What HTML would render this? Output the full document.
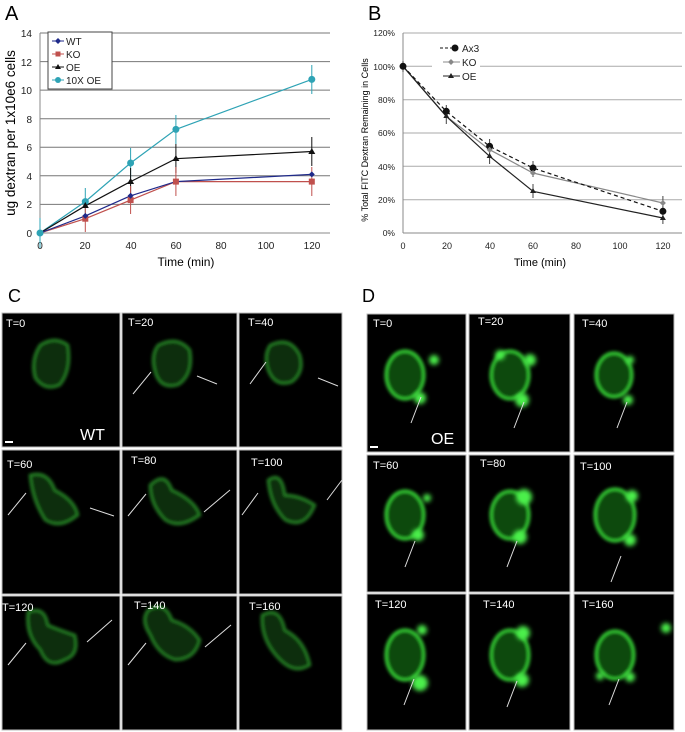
<!DOCTYPE html>
<html><head><meta charset="utf-8"><style>
body{margin:0;background:#fff}
svg{display:block;font-family:"Liberation Sans",sans-serif}
</style></head><body>
<svg width="685" height="732" viewBox="0 0 685 732" xmlns="http://www.w3.org/2000/svg">
<defs>
<filter id="bl" x="-30%" y="-30%" width="160%" height="160%"><feGaussianBlur stdDeviation="1.6"/></filter>
<filter id="bl2" x="-50%" y="-50%" width="200%" height="200%"><feGaussianBlur stdDeviation="2.5"/></filter>
</defs>
<rect width="685" height="732" fill="#fff"/>
<!-- Panel A -->
<text x="5" y="20" font-size="20">A</text>
<g stroke="#777" stroke-width="1">
<line x1="40" y1="204.4" x2="330" y2="204.4"/><line x1="40" y1="175.8" x2="330" y2="175.8"/>
<line x1="40" y1="147.3" x2="330" y2="147.3"/><line x1="40" y1="118.7" x2="330" y2="118.7"/>
<line x1="40" y1="90.1" x2="330" y2="90.1"/><line x1="40" y1="61.6" x2="330" y2="61.6"/>
<line x1="40" y1="33" x2="330" y2="33"/>
</g>
<line x1="40" y1="33" x2="40" y2="233" stroke="#888"/><line x1="40" y1="233" x2="330" y2="233" stroke="#888"/>
<g font-size="10" text-anchor="end" fill="#222">
<text x="32" y="237">0</text><text x="32" y="208">2</text><text x="32" y="180">4</text><text x="32" y="151">6</text>
<text x="32" y="123">8</text><text x="32" y="94">10</text><text x="32" y="66">12</text><text x="32" y="37">14</text>
</g>
<g font-size="10" text-anchor="middle" fill="#222">
<text x="40" y="249">0</text><text x="85" y="249">20</text><text x="131" y="249">40</text><text x="176" y="249">60</text>
<text x="221" y="249">80</text><text x="266" y="249">100</text><text x="312" y="249">120</text>
</g>
<text x="186" y="266" font-size="12" text-anchor="middle">Time (min)</text>
<text transform="translate(15,133) rotate(-90)" font-size="13.5" text-anchor="middle">ug dextran per 1x10e6 cells</text>
<!-- series A -->
<g fill="none" stroke-width="1.2">
<polyline stroke="#2ea3b5" points="40,233 85.3,201.6 130.6,163 175.9,129.4 311.8,79.4"/>
<polyline stroke="#111" points="40,233 85.3,205.8 130.6,181.6 175.9,158.7 311.8,151.5"/>
<polyline stroke="#c0504d" points="40,233 85.3,218.7 130.6,200.1 175.9,181.6 311.8,181.6"/>
<polyline stroke="#1f2a8a" points="40,233 85.3,215.9 130.6,195.8 175.9,181.6 311.8,174.4"/>
</g>
<g stroke-width="1">
<path stroke="#2ea3b5" d="M40,218v30M85.3,188v27M130.6,148v30M175.9,115v29M311.8,65v29"/>
<path stroke="#111" d="M130.6,168v27M175.9,144v29M311.8,137v29"/>
<path stroke="#c0504d" d="M85.3,205v27M130.6,186v28M175.9,167v29M311.8,167v29"/>
</g>
<g fill="#2ea3b5"><circle cx="40" cy="233" r="3.5"/><circle cx="85.3" cy="201.6" r="3.5"/><circle cx="130.6" cy="163" r="3.5"/><circle cx="175.9" cy="129.4" r="3.5"/><circle cx="311.8" cy="79.4" r="3.5"/></g>
<g fill="#111"><path d="M85.3,202l3.5,6h-7zM130.6,178l3.5,6h-7zM175.9,155l3.5,6h-7zM311.8,148l3.5,6h-7z"/></g>
<g fill="#c0504d"><rect x="82.3" y="215.7" width="6" height="6"/><rect x="127.6" y="197.1" width="6" height="6"/><rect x="172.9" y="178.6" width="6" height="6"/><rect x="308.8" y="178.6" width="6" height="6"/></g>
<g fill="#1f2a8a"><path d="M85.3,212.9l3,3-3,3-3-3zM130.6,192.8l3,3-3,3-3-3zM311.8,171.4l3,3-3,3-3-3z"/></g>
<!-- legend A -->
<rect x="48" y="32" width="64" height="57" fill="#fff" stroke="#444"/>
<g font-size="10" fill="#222">
<line x1="52" y1="41" x2="64" y2="41" stroke="#1f2a8a"/><path d="M58,38l3,3-3,3-3-3z" fill="#1f2a8a"/><text x="66" y="45">WT</text>
<line x1="52" y1="54" x2="64" y2="54" stroke="#c0504d"/><rect x="55.5" y="51.5" width="5" height="5" fill="#c0504d"/><text x="66" y="58">KO</text>
<line x1="52" y1="67" x2="64" y2="67" stroke="#111"/><path d="M58,64l3,5h-6z" fill="#111"/><text x="66" y="71">OE</text>
<line x1="52" y1="80" x2="64" y2="80" stroke="#2ea3b5"/><circle cx="58" cy="80" r="3" fill="#2ea3b5"/><text x="66" y="84">10X OE</text>
</g>
<!-- Panel B -->
<text x="368" y="20" font-size="20">B</text>
<g stroke="#aaa" stroke-width="1">
<line x1="403" y1="199.7" x2="682" y2="199.7"/><line x1="403" y1="166.3" x2="682" y2="166.3"/>
<line x1="403" y1="133" x2="682" y2="133"/><line x1="403" y1="99.7" x2="682" y2="99.7"/>
<line x1="403" y1="66.3" x2="682" y2="66.3"/><line x1="403" y1="33" x2="682" y2="33"/>
</g>
<rect x="432" y="44" width="48" height="40" fill="#fff"/>
<line x1="403" y1="33" x2="403" y2="233" stroke="#888"/><line x1="403" y1="233" x2="682" y2="233" stroke="#888"/>
<g font-size="8.5" text-anchor="end" fill="#222">
<text x="395" y="236">0%</text><text x="395" y="203">20%</text><text x="395" y="170">40%</text><text x="395" y="136">60%</text>
<text x="395" y="103">80%</text><text x="395" y="70">100%</text><text x="395" y="36">120%</text>
</g>
<g font-size="9" text-anchor="middle" fill="#222">
<text x="403" y="249">0</text><text x="447" y="249">20</text><text x="490" y="249">40</text><text x="533" y="249">60</text>
<text x="576" y="249">80</text><text x="620" y="249">100</text><text x="663" y="249">120</text>
</g>
<text x="540" y="266" font-size="11" text-anchor="middle">Time (min)</text>
<text transform="translate(368,140) rotate(-90)" font-size="9" text-anchor="middle">% Total FITC Dextran Remaining in Cells</text>
<g fill="none" stroke-width="1.2">
<polyline stroke="#888" points="403,66.3 446.3,116.3 489.6,149.7 533,173 662.9,203"/>
<polyline stroke="#222" points="403,66.3 446.3,116.3 489.6,156.3 533,191.3 662.9,218"/>
<polyline stroke="#111" stroke-dasharray="4,3" points="403,66.3 446.3,111.3 489.6,146.3 533,168 662.9,211.3"/>
</g>
<g stroke="#444"><path d="M403,61v11M446.3,105v17M489.6,139v15M533,161v16M662.9,196v18M446.3,110v14M489.6,150v14M533,184v14M662.9,212v12"/></g>
<g fill="#111"><circle cx="403" cy="66.3" r="3.5"/><circle cx="446.3" cy="111.3" r="3.5"/><circle cx="489.6" cy="146.3" r="3.5"/><circle cx="533" cy="168" r="3.5"/><circle cx="662.9" cy="211.3" r="3.5"/></g>
<g fill="#888"><path d="M489.6,146.7l3,3-3,3-3-3zM533,170l3,3-3,3-3-3zM662.9,200l3,3-3,3-3-3z"/></g>
<g fill="#222"><path d="M446.3,113l3,5h-6zM489.6,153l3,5h-6zM533,188l3,5h-6zM662.9,215l3,5h-6z"/></g>
<g font-size="10" fill="#222">
<line x1="440" y1="48" x2="452" y2="48" stroke="#111" stroke-dasharray="3,2"/><circle cx="455" cy="48" r="3.5" fill="#111"/><text x="462" y="52">Ax3</text>
<line x1="443" y1="62" x2="460" y2="62" stroke="#888"/><path d="M451,59l3,3-3,3-3-3z" fill="#888"/><text x="462" y="66">KO</text>
<line x1="443" y1="76" x2="460" y2="76" stroke="#222"/><path d="M451,73l3,5h-6z" fill="#222"/><text x="462" y="80">OE</text>
</g>
<!-- Panel C -->
<text x="8" y="302" font-size="18">C</text>
<g fill="#000" stroke="#bbb" stroke-width="1">
<rect x="2" y="313" width="118" height="134"/><rect x="122" y="313" width="115" height="134"/><rect x="239" y="313" width="103" height="134"/>
<rect x="2" y="450" width="118" height="144"/><rect x="122" y="450" width="115" height="144"/><rect x="239" y="450" width="103" height="144"/>
<rect x="2" y="596" width="118" height="134"/><rect x="122" y="596" width="115" height="134"/><rect x="239" y="596" width="103" height="134"/>
</g>
<g fill="#0a2e0a" stroke="#2a922a" stroke-width="2.2" filter="url(#bl)">
<path d="M40,345 Q55,335 68,345 Q72,370 60,385 Q45,392 35,378 Q30,360 40,345z"/>
<path d="M158,345 Q178,335 190,350 Q194,375 178,385 Q160,390 155,372 Q150,355 158,345z"/>
<path d="M270,345 Q290,335 300,355 Q305,372 292,382 Q275,388 268,370 Q263,355 270,345z"/>
<path d="M30,475 Q48,470 55,490 Q75,500 78,515 Q60,530 45,520 Q32,500 30,475z"/>
<path d="M150,485 Q165,470 172,490 Q195,500 200,515 Q180,530 165,520 Q150,505 150,485z"/>
<path d="M268,480 Q282,470 285,495 Q300,495 315,505 Q305,530 285,520 Q270,505 268,480z"/>
<path d="M28,612 Q45,605 48,625 Q60,630 75,635 Q80,655 65,660 Q48,670 40,650 Q25,635 28,612z"/>
<path d="M148,610 Q165,600 172,620 Q190,625 200,640 Q195,660 175,660 Q158,655 150,635 Q140,620 148,610z"/>
<path d="M262,615 Q280,605 285,630 Q305,640 310,665 Q295,675 280,660 Q260,640 262,615z"/>
</g>
<g stroke="#ddd" stroke-width="1" fill="none">
<path d="M133,394l18,-22M217,384l-20,-8"/>
<path d="M250,384l16,-22M338,386l-20,-8"/>
<path d="M8,515l18,-22M114,516l-24,-8M128,516l18,-22M230,490l-26,22M242,515l16,-22M342,480l-15,20"/>
<path d="M8,665l18,-22M112,620l-25,22M128,665l18,-22M231,625l-26,22"/>
</g>
<g fill="#fff" font-size="11">
<text x="6" y="327">T=0</text><text x="128" y="326">T=20</text><text x="248" y="326">T=40</text>
<text x="7" y="468">T=60</text><text x="131" y="464">T=80</text><text x="251" y="466">T=100</text>
<text x="2" y="611">T=120</text><text x="134" y="609">T=140</text><text x="249" y="610">T=160</text>
<text x="80" y="440" font-size="16">WT</text>
</g>
<rect x="5" y="441" width="8" height="2" fill="#fff"/>
<!-- Panel D -->
<text x="362" y="302" font-size="18">D</text>
<g fill="#000" stroke="#bbb" stroke-width="1">
<rect x="367" y="314" width="99" height="138"/><rect x="469" y="314" width="101" height="138"/><rect x="574" y="314" width="100" height="138"/>
<rect x="367" y="455" width="99" height="137"/><rect x="469" y="455" width="101" height="137"/><rect x="574" y="455" width="100" height="137"/>
<rect x="367" y="594" width="99" height="136"/><rect x="469" y="594" width="101" height="136"/><rect x="574" y="594" width="100" height="136"/>
</g>
<g fill="#0f4a0f" stroke="#35d035" stroke-width="3" filter="url(#bl)">
<ellipse cx="405" cy="375" rx="19" ry="24"/><ellipse cx="510" cy="375" rx="19" ry="24"/><ellipse cx="614" cy="375" rx="18" ry="22"/>
<ellipse cx="405" cy="515" rx="19" ry="24"/><ellipse cx="510" cy="515" rx="19" ry="24"/><ellipse cx="615" cy="515" rx="20" ry="26"/>
<ellipse cx="405" cy="655" rx="19" ry="25"/><ellipse cx="510" cy="655" rx="19" ry="25"/><ellipse cx="615" cy="655" rx="19" ry="24"/>
</g>
<g fill="#4cf04c" filter="url(#bl2)">
<circle cx="420" cy="398" r="6"/><circle cx="434" cy="360" r="5"/>
<circle cx="522" cy="400" r="7"/><circle cx="530" cy="360" r="6"/><circle cx="500" cy="355" r="5"/>
<circle cx="628" cy="400" r="5"/><circle cx="630" cy="360" r="4"/>
<circle cx="418" cy="535" r="6"/><circle cx="427" cy="498" r="4"/>
<circle cx="520" cy="537" r="7"/><circle cx="524" cy="497" r="8"/>
<circle cx="630" cy="540" r="6"/><circle cx="632" cy="496" r="6"/>
<circle cx="420" cy="683" r="8"/><circle cx="422" cy="630" r="5"/>
<circle cx="522" cy="680" r="7"/><circle cx="523" cy="633" r="7"/>
<circle cx="630" cy="677" r="5"/><circle cx="600" cy="676" r="4"/><circle cx="666" cy="628" r="5"/>
</g>
<g stroke="#ddd" stroke-width="1" fill="none">
<path d="M411,423l10,-26M514,428l10,-26M617,428l10,-26M405,567l10,-26M507,567l10,-26M611,582l10,-26M404,705l10,-26M507,707l10,-26M609,705l10,-26"/>
</g>
<g fill="#fff" font-size="11">
<text x="373" y="327">T=0</text><text x="478" y="325">T=20</text><text x="582" y="327">T=40</text>
<text x="373" y="469">T=60</text><text x="480" y="467">T=80</text><text x="580" y="470">T=100</text>
<text x="375" y="608">T=120</text><text x="483" y="608">T=140</text><text x="582" y="608">T=160</text>
<text x="431" y="444" font-size="16">OE</text>
</g>
<rect x="370" y="446" width="8" height="2" fill="#fff"/>
</svg>
</body></html>
